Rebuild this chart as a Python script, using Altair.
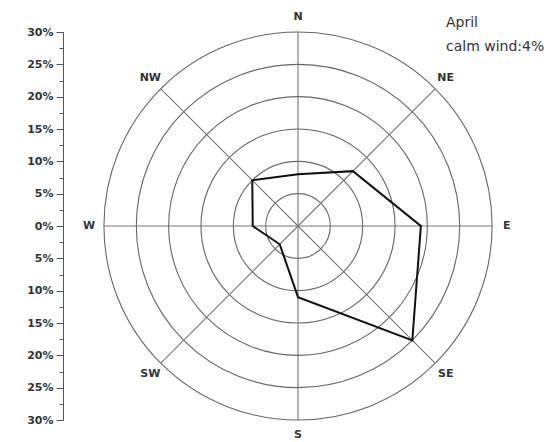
import altair as alt
import pandas as pd

# ---- data ----
directions = ["N", "NE", "E", "SE", "S", "SW", "W", "NW"]
angles = [0, 45, 90, 135, 180, 225, 270, 315]
freq = [8, 12, 19, 25, 11, 4, 7, 10]          # % frequency per direction
rings = [5, 10, 15, 20, 25, 30]                # grid circles (%)
major_ticks = [-30, -25, -20, -15, -10, -5, 0, 5, 10, 15, 20, 25, 30]
minor_ticks = [-27.5, -22.5, -17.5, -12.5, -7.5, -2.5, 2.5, 7.5, 12.5, 17.5, 22.5, 27.5]
title_lines = ["April", "calm wind:4%"]

R = 194  # pixel radius of plot (half of the square)
SIZE = 2 * R

wind = pd.DataFrame({"dir": directions, "angle": angles, "freq": freq, "order": list(range(len(angles)))})
ring_df = pd.DataFrame({"r": rings})
spoke_df = pd.DataFrame({"dir": directions, "angle": angles, "rmax": [30] * len(angles), "lab": [32.3] * len(angles)})

xs = alt.Scale(domain=[-30, 30], nice=False, zero=False)
ys = alt.Scale(domain=[-30, 30], nice=False, zero=False)

FONT = "DejaVu Sans"

# grid circles
circles = alt.Chart(ring_df).mark_arc(
    filled=False, stroke="#666666", strokeWidth=1.1, theta=0, theta2=6.2832
).encode(
    radius=alt.Radius("r:Q", stack=None,
                      scale=alt.Scale(type="linear", domain=[0, 30], range=[0, R], zero=True))
)

# spokes (major axis: labelled ticks)
spokes = alt.Chart(spoke_df).transform_calculate(
    x0="0", y0="0",
    x1="datum.rmax*sin(datum.angle*PI/180)",
    y1="datum.rmax*cos(datum.angle*PI/180)",
).mark_rule(color="#777777", strokeWidth=1.1).encode(
    x=alt.X("x0:Q", scale=xs, axis=None),
    y=alt.Y("y0:Q", scale=ys, axis=alt.Axis(
        orient="left", values=major_ticks, labelExpr="abs(datum.value) + '%'",
        offset=41, tickSize=7, tickColor="#555", domainColor="#555", grid=False, title=None,
        labelFont=FONT, labelFontSize=11, labelFontWeight="bold", labelColor="#333", labelPadding=3,
    )),
    x2="x1:Q",
    y2="y1:Q",
)

# polygon of frequencies (minor ticks axis)
poly = alt.Chart(wind).transform_calculate(
    px="datum.freq*sin(datum.angle*PI/180)",
    py="datum.freq*cos(datum.angle*PI/180)",
).mark_line(interpolate="linear-closed", color="#111", strokeWidth=2).encode(
    x=alt.X("px:Q", scale=xs, axis=None),
    y=alt.Y("py:Q", scale=ys, axis=alt.Axis(
        orient="left", values=minor_ticks, labels=False, offset=41, tickSize=4,
        tickColor="#555", domainColor="#555", grid=False, title=None,
    )),
    order="order:Q",
)

# direction labels
labels = alt.Chart(spoke_df).transform_calculate(
    lx="datum.lab*sin(datum.angle*PI/180)",
    ly="datum.lab*cos(datum.angle*PI/180)",
).mark_text(font=FONT, fontSize=11, fontWeight="bold", color="#333", align="center", baseline="middle").encode(
    x=alt.X("lx:Q", scale=xs, axis=None),
    y=alt.Y("ly:Q", scale=ys, axis=None),
    text="dir:N",
)

title_df = pd.DataFrame({"t": title_lines, "i": [0, 1]})
titles = alt.Chart(title_df).transform_calculate(
    ty="-9 + datum.i*24"
).mark_text(font=FONT, fontSize=14, color="#333", align="left", baseline="middle").encode(
    x=alt.value(342),
    y=alt.Y("ty:Q", scale=None, axis=None),
    text="t:N",
)

chart = alt.layer(circles, spokes, poly, labels, titles).resolve_axis(y="independent").properties(
    width=SIZE, height=SIZE,
    autosize=alt.AutoSizeParams(type="none"),
    padding={"left": 96, "top": 24, "right": 54, "bottom": 20},
    background="white",
).configure_view(stroke=None)

chart.save("out.html", embed_options={"renderer": "svg", "actions": False})
